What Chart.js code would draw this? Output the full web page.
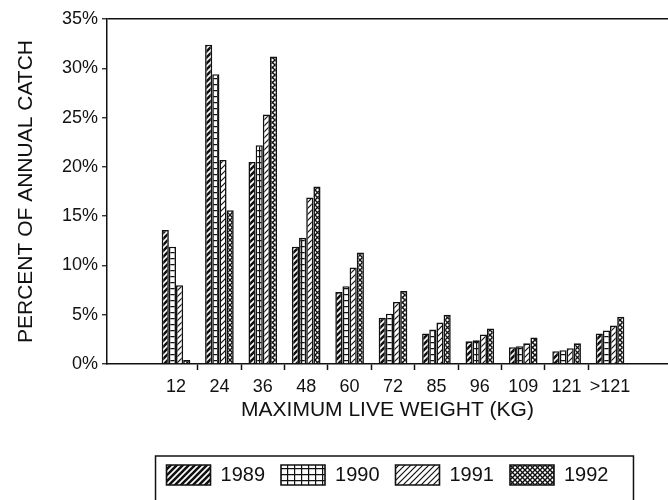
<!DOCTYPE html>
<html>
<head>
<meta charset="utf-8">
<script src="https://cdn.jsdelivr.net/npm/chart.js@4/dist/chart.umd.min.js"></script>
<style>
  body { margin: 0; background: #fff; }
  #wrap { width: 668px; height: 500px; }
</style>
</head>
<body>
<div id="wrap"><canvas id="catch-chart" width="668" height="500"></canvas></div>
<script>
// categorias de peso e porcentagens
const pesos = ['12', '24', '36', '48', '60', '72', '85', '96', '109', '121', '>121'];
const anos = ['1989', '1990', '1991', '1992'];
const pct1989 = [13.6, 32.4, 20.5, 11.9, 7.3, 4.7, 3.1, 2.3, 1.7, 1.3, 3.1];
const pct1990 = [11.9, 29.4, 22.2, 12.8, 7.9, 5.1, 3.5, 2.4, 1.8, 1.4, 3.4];
const pct1991 = [8.0, 20.7, 25.3, 16.9, 9.8, 6.3, 4.2, 3.0, 2.1, 1.6, 3.9];
const pct1992 = [0.4, 15.6, 31.2, 18.0, 11.3, 7.4, 5.0, 3.6, 2.7, 2.1, 4.8];
const yTicks = [0, 5, 10, 15, 20, 25, 30, 35];

const INK = '#111';
const FONT = "'Liberation Sans', Arial, Helvetica, sans-serif";

// --- padrões de hachura (preto e branco, como no original) ---
function tile(w, h, draw) {
    const c = document.createElement('canvas');
    c.width = w; c.height = h;
    const g = c.getContext('2d');
    g.fillStyle = '#fff';
    g.fillRect(0, 0, w, h);
    g.strokeStyle = INK;
    draw(g, w, h);
    return g.createPattern(c, 'repeat');
}
function diag(g, s) {
    g.beginPath();
    g.moveTo(0, s); g.lineTo(s, 0);
    g.moveTo(-s / 2, s / 2); g.lineTo(s / 2, -s / 2);
    g.moveTo(s / 2, s * 1.5); g.lineTo(s * 1.5, s / 2);
    g.stroke();
}
function antiDiag(g, s) {
    g.beginPath();
    g.moveTo(0, 0); g.lineTo(s, s);
    g.moveTo(-s / 2, s / 2); g.lineTo(s / 2, s * 1.5);
    g.moveTo(s / 2, -s / 2); g.lineTo(s * 1.5, s / 2);
    g.stroke();
}
const pat1989 = tile(6, 6, (g, w) => { g.lineWidth = 2.6; diag(g, w); });
const pat1990 = tile(7, 6, (g, w, h) => {
    g.lineWidth = 1.4;
    g.beginPath();
    g.moveTo(0.5, 0); g.lineTo(0.5, h);
    g.moveTo(0, 0.5); g.lineTo(w, 0.5);
    g.stroke();
});
const pat1991 = tile(6, 6, (g, w) => { g.lineWidth = 1.2; diag(g, w); });
const pat1992 = tile(5, 5, (g, w) => { g.lineWidth = 1.4; diag(g, w); antiDiag(g, w); });

const series = [pct1989, pct1990, pct1991, pct1992];
const patterns = [pat1989, pat1990, pat1991, pat1992];

// moldura da legenda (o original tem uma caixa em volta)
const legendFrame = {
    id: 'legendFrame',
    afterDraw(chart) {
        const boxes = chart.legend.legendHitBoxes;
        if (!boxes || !boxes.length) return;
        const first = boxes[0];
        const last = boxes[boxes.length - 1];
        const ctx = chart.ctx;
        ctx.save();
        ctx.strokeStyle = INK;
        ctx.lineWidth = 1.5;
        ctx.beginPath();
        ctx.moveTo(first.left - 11, chart.height + 2);
        ctx.lineTo(first.left - 11, first.top - 9);
        ctx.lineTo(last.left + last.width + 25, first.top - 9);
        ctx.lineTo(last.left + last.width + 25, chart.height + 2);
        ctx.stroke();
        ctx.restore();
    }
};

const ctx = document.getElementById('catch-chart').getContext('2d');

const catchChart = new Chart(ctx, {
    type: 'bar',
    data: {
        datasets: anos.map((ano, k) => ({
            label: ano,
            data: series[k].map((v, i) => ({ x: i + 1, y: v })),
            backgroundColor: patterns[k],
            borderColor: INK,
            borderWidth: 1.6,
            categoryPercentage: 0.66,
            barPercentage: 1.0,
            xAxisID: 'x'
        }))
    },
    options: {
        responsive: false,
        animation: false,
        events: [],
        layout: { padding: { top: 19, right: 0, left: 0, bottom: 5 } },
        scales: {
            x: {
                type: 'linear',
                position: 'bottom',
                offset: false,
                weight: 1,
                min: -0.59,
                max: 12.336,
                afterBuildTicks: (s) => { s.ticks = pesos.map((p, i) => ({ value: i + 1 })); },
                afterFit: (s) => { s.height = 79; },
                grid: { display: false, drawTicks: false, offset: false },
                border: { display: false },
                ticks: {
                    autoSkip: false,
                    maxRotation: 0,
                    padding: 6,
                    color: INK,
                    font: { family: FONT, size: 18 },
                    callback: (v, i) => pesos[i]
                },
                title: {
                    display: true,
                    text: 'MAXIMUM LIVE WEIGHT (KG)',
                    color: INK,
                    font: { family: FONT, size: 21 },
                    padding: { top: 0, bottom: 26 }
                }
            },
            // eixo só para os tracinhos entre as categorias
            xt: {
                type: 'linear',
                position: 'bottom',
                offset: false,
                weight: 0,
                min: -0.59,
                max: 12.336,
                afterBuildTicks: (s) => { s.ticks = pesos.slice(1).map((p, i) => ({ value: i + 1.5 })); },
                afterFit: (s) => { s.height = 6; },
                grid: { drawOnChartArea: false, offset: false, tickLength: 6, tickColor: INK, tickWidth: 1.5 },
                border: { display: true, color: INK, width: 1.5 },
                ticks: { display: false }
            },
            y: {
                min: 0,
                max: 35,
                afterBuildTicks: (s) => { s.ticks = yTicks.map(v => ({ value: v })); },
                afterFit: (s) => { s.width = 107; },
                grid: {
                    color: (c) => (c.tick && c.tick.value === 35) ? INK : 'rgba(0,0,0,0)',
                    lineWidth: 1.5,
                    tickColor: INK,
                    tickLength: 5,
                    tickWidth: 1.2
                },
                border: { display: true, color: INK, width: 1.5 },
                ticks: {
                    padding: 4,
                    color: INK,
                    font: { family: FONT, size: 18 },
                    callback: (v) => v + '%'
                },
                title: {
                    display: true,
                    text: 'PERCENT OF ANNUAL CATCH',
                    color: INK,
                    font: { family: FONT, size: 21 },
                    padding: { top: 14, bottom: 0 }
                }
            }
        },
        plugins: {
            legend: {
                position: 'bottom',
                fullSize: false,
                labels: {
                    boxWidth: 44,
                    boxHeight: 20,
                    padding: 16,
                    color: INK,
                    font: { family: FONT, size: 20 }
                }
            },
            tooltip: { enabled: false }
        }
    },
    plugins: [legendFrame]
});
</script>
</body>
</html>
